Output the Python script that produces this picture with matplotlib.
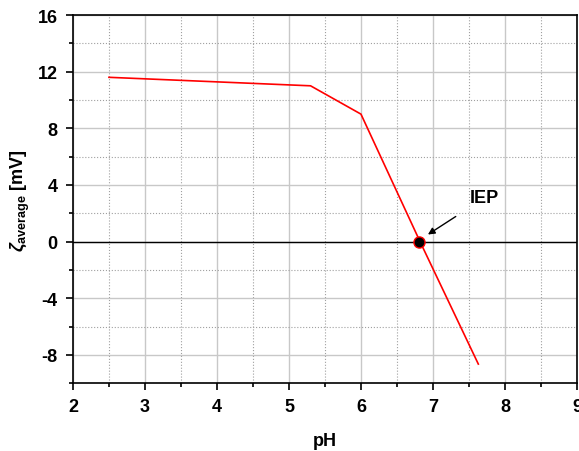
import matplotlib
matplotlib.use("Agg")
import matplotlib.pyplot as plt
import matplotlib.ticker as ticker

# Zeta potential vs pH
ph = [2.5, 5.3, 6.0, 6.82, 7.63]
zeta = [11.6, 11.0, 9.0, 0.0, -8.65]
iep_ph = 6.81
iep_zeta = 0.0
y_ticks = [-8, -4, 0, 4, 8, 12, 16]
x_ticks = [2, 3, 4, 5, 6, 7, 8, 9]

plt.rcParams["font.family"] = ["Liberation Sans", "DejaVu Sans"]
plt.rcParams["mathtext.fontset"] = "custom"
plt.rcParams["mathtext.rm"] = "Liberation Sans:bold"
plt.rcParams["mathtext.it"] = "Liberation Sans:italic:bold"
plt.rcParams["mathtext.bf"] = "Liberation Sans:bold"

figure = plt.figure(figsize=(5.79, 4.52), dpi=100)
axis = figure.add_axes([0.126, 0.150, 0.8705, 0.8146])

axis.plot(ph, zeta, color="red", linewidth=1.2, zorder=3)
axis.axhline(0, color="black", linewidth=1.0, zorder=2)
axis.plot(iep_ph, iep_zeta, "o", color="black", markeredgecolor="red",
          markersize=8, markeredgewidth=1.0, zorder=4)

axis.annotate("IEP", xy=(6.93, 0.5), xytext=(7.72, 3.1),
              fontsize=13, fontweight="bold", ha="center", va="center",
              arrowprops=dict(arrowstyle="-|>", color="black", lw=1.0,
                              shrinkA=10, shrinkB=0, mutation_scale=10))

axis.set_xlim(2, 9)
axis.set_ylim(-10, 16)
axis.set_xticks(x_ticks)
axis.set_xticklabels([str(x) for x in x_ticks])
axis.set_yticks(y_ticks)
axis.set_yticklabels([str(y) for y in y_ticks])
axis.xaxis.set_minor_locator(ticker.MultipleLocator(0.5))
axis.yaxis.set_minor_locator(ticker.MultipleLocator(2))

axis.grid(which="major", color="#c8c8c8", linewidth=1.0, linestyle="-")
axis.grid(which="minor", color="#a0a0a0", linewidth=0.8, linestyle=":")
axis.set_axisbelow(True)

axis.tick_params(which="both", direction="out", width=1.2, top=False, right=False)
axis.tick_params(which="major", length=5, labelsize=13, pad=6)
axis.tick_params(which="minor", length=3)
for label in axis.get_xticklabels() + axis.get_yticklabels():
    label.set_fontweight("bold")
for spine in axis.spines.values():
    spine.set_linewidth(1.2)

axis.set_xlabel("pH", fontsize=13, fontweight="bold", labelpad=12)
axis.set_ylabel(r"$\zeta_{\mathbf{average}}$ [mV]", fontsize=13,
                fontweight="bold", labelpad=4)

figure.savefig("out.png", dpi=100)
